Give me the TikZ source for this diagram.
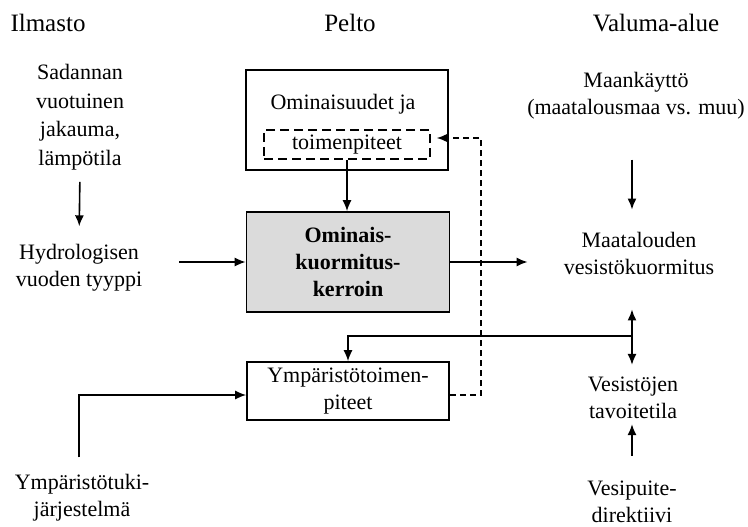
\documentclass[tikz,border=0pt]{standalone}
\usepackage{fontspec}
\setmainfont{Liberation Serif}
\usetikzlibrary{arrows.meta}
\begin{document}
\begin{tikzpicture}[x=1pt,y=-1pt,
  every node/.style={font=\fontsize{22}{27}\selectfont, align=center, inner sep=0pt},
  title/.style={font=\fontsize{25}{30}\selectfont},
  box/.style={draw, line width=1.6pt},
  arr/.style={-{Latex[length=11pt,width=9pt]}, line width=1.6pt},
  dbl/.style={{Latex[length=11pt,width=9pt]}-{Latex[length=11pt,width=9pt]}, line width=1.6pt},
  dboxstyle/.style={draw, line width=1.6pt, dash pattern=on 9pt off 5pt},
  dline/.style={line width=1.4pt, dash pattern=on 6pt off 4pt, -{Latex[length=11pt,width=9pt]}}]
\useasboundingbox[fill=white] (0,0) rectangle (748,527);

% column titles
\node[title] (ti1) at (48,23) {Ilmasto};
\node[title] (ti2) at (350,23) {Pelto};
\node[title] (ti3) at (656,23) {Valuma-alue};

% left column
\node[font=\fontsize{22}{28.5}\selectfont] (sad) at (80,117) {Sadannan\\vuotuinen\\jakauma,\\lämpötila};
\node (hyd) at (79,268) {Hydrologisen\\vuoden tyyppi};
\node (ymt) at (82,498) {Ympäristötuki-\\järjestelmä};

% middle column
\node[box, minimum width=202pt, minimum height=100pt] (b1) at (347,120) {};
\node (b1t) at (343,104) {Ominaisuudet ja};
\node[dboxstyle, minimum width=166pt, minimum height=29pt] (db) at (347,144.5) {toimenpiteet};
\node[box, fill=gray!28, minimum width=203pt, minimum height=100pt,
      font=\fontsize{22}{27}\selectfont\bfseries] (b2) at (348,262) {Ominais-\\kuormitus-\\kerroin};
\node[box, minimum width=202pt, minimum height=58pt] (b3) at (348,391) {Ympäristötoimen-\\piteet};

% right column
\node (maan) at (636,96) {Maankäyttö\\(maatalousmaa vs. muu)};
\node (maat) at (639,253) {Maatalouden\\vesistökuormitus};
\node (ves) at (633,398) {Vesistöjen\\tavoitetila};
\node (vesip) at (632,502) {Vesipuite-\\direktiivi};

% helper coordinates
\coordinate (rc) at (632,336);
\coordinate (yc) at (79,395);
\coordinate (dc) at (481,395);

% connectors
\draw[arr, shorten <=12pt, shorten >=18pt] (sad.south) -- (hyd.north);
\draw[arr, shorten <=37pt] (hyd.east |- b2.west) -- (b2.west);
\draw[arr] (db.south) -- (db.south |- b2.north);
\draw[arr, shorten >=36pt] (b2.east) -- (b2.east -| maat.west);
\draw[arr, shorten <=40pt, shorten >=22pt] (maan.south -| rc) -- (maat.north -| rc);
\draw[dbl, shorten <=35pt, shorten >=12pt] (maat.south -| rc) -- (ves.north -| rc);
\draw[arr] (rc) -| (b3.north);
\draw[arr, shorten <=25pt, shorten >=5pt] (vesip.north -| rc) -- (ves.south -| rc);
\draw[arr, shorten <=17pt] (ymt.north -| yc) |- (b3.west |- yc);
\draw[dline, shorten >=6pt] (b3.east |- dc) -- (dc) |- ([yshift=6.5pt]db.east);
\end{tikzpicture}
\end{document}
